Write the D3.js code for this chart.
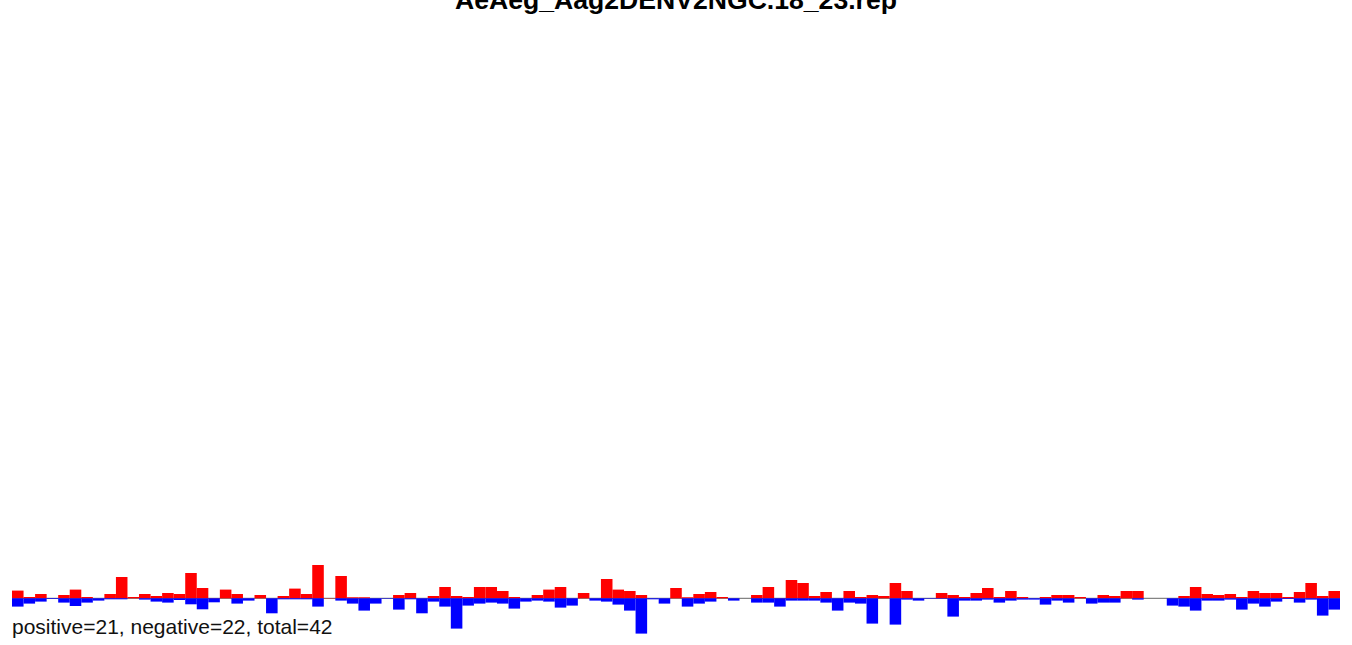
<!DOCTYPE html>
<html><head><meta charset="utf-8">
<script src="https://cdn.jsdelivr.net/npm/d3@7"></script>
<style>body{margin:0;background:#fff}svg{display:block}</style>
</head><body>
<svg id="chart" width="1352" height="645"></svg>
<script>
const title = "AeAeg_Aag2DENV2NGC.18_23.rep";
const summary = "positive=21, negative=22, total=42";
const positions = d3.range(1, 116);
const positive = [7.7,1.3,4.3,0,3.3,8.7,1.3,0,4.3,21.3,1.3,4.3,2.3,5.3,4.3,25.3,10.3,0.3,8.7,4.3,
 0,3.3,0,2.3,9.7,4.3,33.3,0.3,22.3,1,1,0,0,3.3,5.3,0,2.3,11.3,2.3,1.3,
 11.3,11.3,7.3,1.3,0,3.3,8.7,11.3,0,5.3,0,19.3,8.7,7.3,3.3,0,0,10.3,1,4.3,
 6.3,1.3,0,0,3.3,11.3,0.3,18.3,15.3,2.3,6.3,0,7.3,1.3,3.3,2.3,15.3,7.3,0,0,
 5.3,3.3,1.3,5.3,10.3,1.3,7.3,1.3,0,1.3,3.3,3.3,1.3,0,3.3,2.3,7.3,7.3,0,0,
 0,2.3,11.3,4.3,3.3,4.3,1.3,7.3,5.3,5.3,1.3,6.3,15.3,2.3,7.3];
const negative = [8.3,5.3,3.3,0.7,4.3,7.7,4.3,2.3,1,1,0,1.3,3.3,4.3,1.7,6,11,4,0,5.3,
 2.3,0,15,1,1,1,8.3,0,2.3,5.3,12.3,5.3,0.5,11.3,1,15,3.3,8.3,30.3,7.3,
 5.3,4.3,5.3,10.3,3.3,2.3,3.3,9.3,7.3,0,2.3,3.3,6.3,12.3,35.3,1,5.3,0,8.3,5.3,
 3.3,0,2.3,0,4.3,4.3,8.3,2.3,2.3,2.3,4.3,12.3,4.3,5.3,25.3,0,26.3,1.3,2.3,0.5,
 0.5,18.3,2.3,2.3,1.3,4.3,2.3,1.3,1.3,6.3,2.3,4.3,0,5.3,4.3,4.3,0,1.3,0,0,
 7.3,8.3,12.3,2.3,2.3,1.3,11.3,5.3,8.3,3.3,0.7,4.3,1.3,17.3,11.3];

const svg = d3.select("#chart");
const x = d3.scaleBand().domain(positions).range([12, 1340]).padding(0);
const y = d3.scaleLinear().domain([-40, 40]).range([638.3, 558.3]);

svg.append("line").attr("x1", 12).attr("x2", 1340)
  .attr("y1", y(0)).attr("y2", y(0)).attr("stroke", "#666").attr("stroke-width", 1);

svg.append("g").selectAll("rect").data(positions.map((p,i)=>({p, v: positive[i]})).filter(d=>d.v>0))
  .join("rect").attr("x", d=>x(d.p)).attr("width", x.bandwidth())
  .attr("y", d=>y(d.v)).attr("height", d=>y(0)-y(d.v)).attr("fill", "#ff0000");

svg.append("g").selectAll("rect").data(positions.map((p,i)=>({p, v: negative[i]})).filter(d=>d.v>0))
  .join("rect").attr("x", d=>x(d.p)).attr("width", x.bandwidth())
  .attr("y", y(0)).attr("height", d=>y(-d.v)-y(0)).attr("fill", "#0000ff");

svg.append("text").attr("x", 676).attr("y", 9).attr("text-anchor", "middle")
  .attr("font-family", "Liberation Sans, Arial, sans-serif").attr("font-weight", "bold")
  .attr("font-size", 26.6).attr("fill", "#000").text(title);

svg.append("text").attr("x", 12).attr("y", 634).attr("font-family", "Liberation Sans, Arial, sans-serif")
  .attr("font-size", 21).attr("fill", "#111").text(summary);
</script>
</body></html>
